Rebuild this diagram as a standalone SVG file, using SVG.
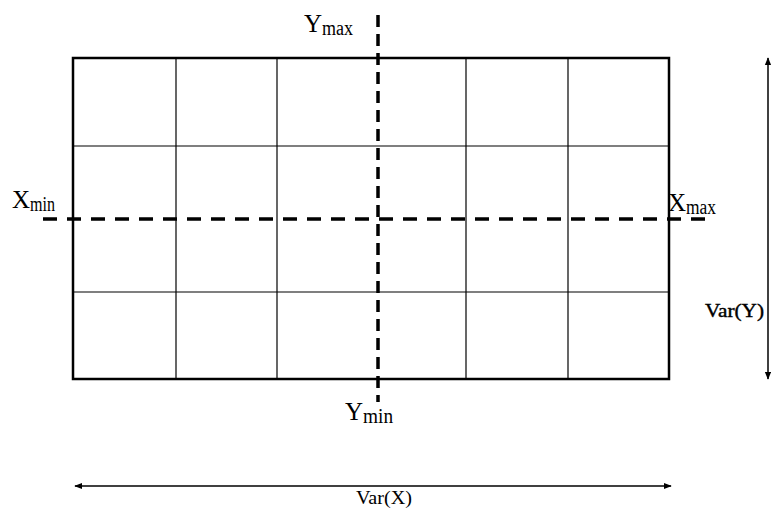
<svg xmlns="http://www.w3.org/2000/svg" width="771" height="509" viewBox="0 0 771 509">
<style>
.frame{fill:none;stroke:#000;stroke-width:2.5}
.grid{stroke:#000;stroke-width:1.2}
.dash{stroke:#000;stroke-width:3.5;fill:none}
.arr{stroke:#000;stroke-width:1.5;fill:none}
text{font-family:"Liberation Serif","Times New Roman",serif;fill:#000}
.big{font-size:25px}
.sub{font-size:20px}
.lab{font-size:19px}
</style>
<defs>
<marker id="ah" viewBox="0 0 10 10" refX="9" refY="5" markerWidth="8" markerHeight="8" orient="auto-start-reverse" markerUnits="userSpaceOnUse">
<path d="M0,1 L10,5 L0,9 Z" fill="#000"/>
</marker>
</defs>
<g id="grid">
<rect class="frame" x="73" y="58" width="596" height="321"/>
<line class="grid" x1="176" y1="58" x2="176" y2="379"/>
<line class="grid" x1="277" y1="58" x2="277" y2="379"/>
<line class="grid" x1="466" y1="58" x2="466" y2="379"/>
<line class="grid" x1="568" y1="58" x2="568" y2="379"/>
<line class="grid" x1="73" y1="146" x2="669" y2="146"/>
<line class="grid" x1="73" y1="292" x2="669" y2="292"/>
</g>
<g id="connectors">
<line class="dash" x1="378" y1="15" x2="378" y2="402" stroke-width="3" stroke-dasharray="12,7"/>
<line class="dash" x1="43" y1="219" x2="714" y2="219" stroke-dasharray="14,10"/>
<line class="arr" x1="768" y1="58" x2="768" y2="379" marker-start="url(#ah)" marker-end="url(#ah)"/>
<line class="arr" x1="75" y1="486" x2="671" y2="486" marker-start="url(#ah)" marker-end="url(#ah)"/>
</g>
<g id="label-ymax"><text x="304" y="32"><tspan class="big">Y</tspan><tspan class="sub" dy="3" textLength="31" lengthAdjust="spacingAndGlyphs">max</tspan></text></g>
<g id="label-xmin"><text x="12" y="208"><tspan class="big">X</tspan><tspan class="sub" dy="3" textLength="25" lengthAdjust="spacingAndGlyphs">min</tspan></text></g>
<g id="label-xmax"><text x="668" y="211"><tspan class="big">X</tspan><tspan class="sub" dy="3" textLength="30" lengthAdjust="spacingAndGlyphs">max</tspan></text></g>
<g id="label-ymin"><text x="345" y="420"><tspan class="big">Y</tspan><tspan class="sub" dy="3" textLength="30" lengthAdjust="spacingAndGlyphs">min</tspan></text></g>
<g id="label-vary"><text class="lab" x="705" y="317" stroke="#000" stroke-width="0.4" textLength="59" lengthAdjust="spacingAndGlyphs">Var(Y)</text></g>
<g id="label-varx"><text class="lab" x="356" y="504" textLength="56" lengthAdjust="spacingAndGlyphs">Var(X)</text></g>
</svg>
